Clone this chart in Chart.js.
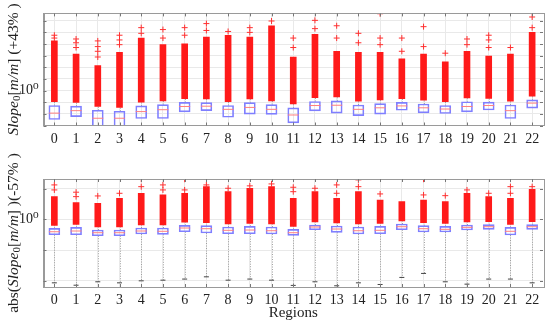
<!DOCTYPE html>
<html>
<head>
<meta charset="utf-8">
<script src="https://cdn.jsdelivr.net/npm/chart.js@4"></script>
<style>
  html, body { margin: 0; padding: 0; background: #fff; }
  #wrap { position: relative; width: 550px; height: 322px; overflow: hidden; }
  canvas { position: absolute; left: 0; }
  #topChart { top: 0; }
  #botChart { top: 145px; }
</style>
</head>
<body>
<div id="wrap">
  <canvas id="topChart" width="550" height="160"></canvas>
  <canvas id="botChart" width="550" height="177"></canvas>
</div>
<script>
const regions = ["0","1","2","3","4","5","6","7","8","9","10","11","12","13","14","15","16","17","18","19","20","21","22"];

// top panel: Slope0 [m/m] (+43%)
const topQ1 = [0.0033, 0.0058, 0.0005, 0.0005, 0.0040, 0.0040, 0.0148, 0.0189, 0.0051, 0.0096, 0.0089, 0.00166, 0.0179, 0.0116, 0.0070, 0.0096, 0.0204, 0.0123, 0.0108, 0.0148, 0.0215, 0.0040, 0.0313];
const topMed = [0.0116, 0.0189, 0.0042, 0.0042, 0.0157, 0.0228, 0.043, 0.0456, 0.0245, 0.0357, 0.0245, 0.0080, 0.052, 0.055, 0.0245, 0.0331, 0.0482, 0.0331, 0.026, 0.043, 0.052, 0.0189, 0.084];
const topQ3 = [0.052, 0.0456, 0.0204, 0.0169, 0.0482, 0.0627, 0.096, 0.091, 0.052, 0.091, 0.0627, 0.0331, 0.116, 0.132, 0.058, 0.0755, 0.096, 0.070, 0.052, 0.110, 0.102, 0.058, 0.160];
const topWhiskerHi = [0.110, 0.096, 0.043, 0.0357, 0.102, 0.132, 0.204, 0.193, 0.110, 0.193, 0.132, 0.070, 0.245, 0.28, 0.123, 0.160, 0.204, 0.148, 0.110, 0.232, 0.215, 0.123, 0.338];
const topDenseTop = [18500, 1350, 143, 1960, 32500, 8800, 10600, 39000, 57000, 39000, 370000, 769, 69000, 2370, 1960, 1960, 530, 1350, 302, 2370, 930, 1350, 100000];
const topOutliers = [
  [32500, 57000], [5000, 12800, 27000], [769, 2370, 6000, 18500], [8800, 22400, 57000],
  [83000, 255000], [32500, 175000], [57000, 255000], [146000, 570000], [120000],
  [100000, 255000], [950000], [5000, 32500], [210000, 1080000], [32500, 370000],
  [12800, 83000], [8800, 32500, 4000000], [2370, 32500], [6000, 310000], [1630],
  [8800, 27000], [5000, 22400, 57000], [5000], [255000, 2100000]
];

// bottom panel: abs(Slope0 [m/m]) (-57%)
const botQ1 = [0.315, 0.315, 0.292, 0.292, 0.332, 0.325, 0.394, 0.358, 0.340, 0.340, 0.332, 0.301, 0.458, 0.377, 0.332, 0.340, 0.458, 0.386, 0.386, 0.448, 0.472, 0.308, 0.472];
const botMed = [0.394, 0.416, 0.366, 0.366, 0.416, 0.407, 0.521, 0.494, 0.438, 0.448, 0.425, 0.366, 0.561, 0.483, 0.425, 0.438, 0.574, 0.494, 0.472, 0.548, 0.574, 0.407, 0.574];
const botQ3 = [0.509, 0.548, 0.448, 0.448, 0.521, 0.521, 0.638, 0.619, 0.561, 0.592, 0.561, 0.472, 0.652, 0.605, 0.561, 0.592, 0.703, 0.619, 0.592, 0.652, 0.667, 0.548, 0.667];
const botWhiskerHi = [0.638, 0.687, 0.561, 0.561, 0.652, 0.652, 0.80, 0.775, 0.703, 0.741, 0.703, 0.592, 0.817, 0.757, 0.703, 0.741, 0.881, 0.775, 0.741, 0.817, 0.835, 0.687, 0.835];
const botWhiskerLo = [0.0086, 0.0072, 0.0093, 0.0086, 0.0100, 0.0105, 0.0114, 0.0135, 0.0105, 0.0114, 0.0105, 0.0071, 0.0093, 0.0069, 0.0086, 0.0076, 0.0129, 0.0174, 0.0093, 0.0078, 0.0114, 0.0114, 0.0086];
const botDenseTop = [5.45, 3.47, 3.32, 4.83, 7.0, 6.19, 7.0, 11.5, 7.9, 10.2, 11.5, 4.83, 7.9, 4.83, 7.9, 4.25, 3.74, 4.25, 3.74, 7.0, 5.45, 4.83, 9.5];
const botOutliers = [
  [9.0, 13.1], [5.45, 7.6], [5.74], [7.0], [11.5, 20.1], [9.0, 13.1], [9.0, 20.1],
  [13.1], [10.2], [12.2], [14.1], [7.9, 11.0], [10.2], [7.0, 13.1], [11.5, 19.1],
  [6.67], [], [6.19, 20.1], [5.87], [9.0], [7.0], [7.0, 11.5], [11.5]
];

const topTicks = [1e-3, 1e-2, 1e-1, 1, 10, 100, 1e3, 1e4, 1e5, 1e6];
const botTicks = [1e-2, 1e-1, 1, 10];

const topTitle = [["Slope", "i"], ["0", "sub"], ["[", "n"], ["m/m", "i"], ["]", "n"], [" (+43% )", "n"]];
const botTitle = [["abs(", "n"], ["Slope", "i"], ["0", "sub"], ["[", "n"], ["m/m", "i"], ["]", "n"], [" )(-57% )", "n"]];

const FONT = "'Liberation Serif', 'DejaVu Serif', serif";

// dotted whiskers, plot frame with inner ticks and mixed-style y title
const boxExtras = {
  id: "boxExtras",
  beforeDatasetsDraw(chart, args, opts) {
    const { ctx, chartArea: a } = chart;
    const x = chart.scales.x, y = chart.scales.y;
    ctx.save();
    ctx.beginPath();
    ctx.rect(a.left, a.top, a.right - a.left, a.bottom - a.top);
    ctx.clip();
    ctx.strokeStyle = "#8a8a8a";
    ctx.lineWidth = 0.8;
    ctx.setLineDash([1, 1.5]);
    opts.q1.forEach((v, i) => {
      const px = Math.round(x.getPixelForValue(i)) + 0.5;
      ctx.beginPath();
      ctx.moveTo(px, y.getPixelForValue(opts.q3[i]));
      ctx.lineTo(px, y.getPixelForValue(opts.hi[i]));
      if (opts.lo) {
        ctx.moveTo(px, y.getPixelForValue(v));
        ctx.lineTo(px, y.getPixelForValue(opts.lo[i]));
      }
      ctx.stroke();
    });
    ctx.restore();
  },
  afterDraw(chart, args, opts) {
    const { ctx, chartArea: a } = chart;
    const x = chart.scales.x, y = chart.scales.y;
    ctx.save();
    ctx.strokeStyle = "#9a9a9a";
    ctx.lineWidth = 1;
    ctx.strokeRect(Math.round(a.left) + 0.5, Math.round(a.top) + 0.5,
      Math.round(a.right - a.left), Math.round(a.bottom - a.top));

    // small inward tick marks on all four sides
    ctx.strokeStyle = "#777";
    ctx.beginPath();
    y.ticks.forEach(t => {
      const py = Math.round(y.getPixelForValue(t.value)) + 0.5;
      ctx.moveTo(a.left, py); ctx.lineTo(a.left + 3, py);
      ctx.moveTo(a.right, py); ctx.lineTo(a.right - 3, py);
    });
    x.ticks.forEach((t, i) => {
      const px = Math.round(x.getPixelForValue(i)) + 0.5;
      ctx.moveTo(px, a.bottom); ctx.lineTo(px, a.bottom - 3);
      ctx.moveTo(px, a.top); ctx.lineTo(px, a.top + 3);
    });
    ctx.stroke();

    // y title, italic and upright runs
    const cy = (a.top + a.bottom) / 2;
    ctx.translate(opts.titleX, cy);
    ctx.rotate(-Math.PI / 2);
    ctx.fillStyle = "#222";
    ctx.textBaseline = "middle";
    const fontOf = s => s === "i" ? "italic 15.5px " + FONT : s === "sub" ? "11px " + FONT : "15.5px " + FONT;
    let total = 0;
    opts.title.forEach(([t, s]) => { ctx.font = fontOf(s); total += ctx.measureText(t).width; });
    let cx = -total / 2;
    opts.title.forEach(([t, s]) => {
      ctx.font = fontOf(s);
      ctx.fillText(t, cx, s === "sub" ? 3.5 : 0);
      cx += ctx.measureText(t).width;
    });
    ctx.restore();
  }
};

function makeChart(id, p) {
  const outlierPts = [];
  p.out.forEach((list, i) => list.forEach(v => outlierPts.push({ x: regions[i], y: v })));
  return new Chart(document.getElementById(id), {
    type: "bar",
    data: {
      labels: regions,
      datasets: [
        {
          label: "outliers",
          data: regions.map((r, i) => [p.hi[i], p.dense[i]]),
          backgroundColor: "#ff1a1a",
          barThickness: 6,
          grouped: false,
          order: 3
        },
        {
          type: "line",
          label: "outliers sparse",
          data: outlierPts,
          showLine: false,
          pointStyle: "cross",
          pointRadius: 3,
          borderColor: "#ff3030",
          borderWidth: 1,
          order: 2
        },
        {
          label: "box",
          data: regions.map((r, i) => [p.q1[i], p.q3[i]]),
          backgroundColor: "rgba(255,255,255,0)",
          borderColor: "#7f7fff",
          borderWidth: 1,
          borderSkipped: false,
          barThickness: 11,
          grouped: false,
          order: 1
        },
        {
          type: "line",
          label: "median",
          data: regions.map((r, i) => ({ x: r, y: p.med[i] })),
          showLine: false,
          pointStyle: "line",
          pointRadius: 5.5,
          borderColor: "#ff7f7f",
          borderWidth: 1,
          order: 0
        },
        {
          type: "line",
          label: "whisker cap",
          data: p.lo ? regions.map((r, i) => ({ x: r, y: p.lo[i] })) : [],
          showLine: false,
          pointStyle: "line",
          pointRadius: 2.5,
          borderColor: "#444",
          borderWidth: 1,
          order: 0
        }
      ]
    },
    options: {
      responsive: false,
      animation: false,
      devicePixelRatio: 1,
      layout: { padding: { top: p.padTop, right: 7, left: 0, bottom: 0 } },
      plugins: {
        legend: { display: false },
        tooltip: { enabled: false },
        boxExtras: { q1: p.q1, q3: p.q3, hi: p.hi, lo: p.lo, title: p.title, titleX: p.titleX }
      },
      scales: {
        x: {
          type: "category",
          offset: true,
          grid: { offset: false, color: "#e9e9e9", drawTicks: false },
          border: { color: "#9a9a9a" },
          ticks: { color: "#222", padding: 5, autoSkip: false, maxRotation: 0, font: { family: FONT, size: 14 } },
          title: {
            display: !!p.xTitle,
            text: p.xTitle || "",
            color: "#222",
            padding: { top: 0, bottom: 0 },
            font: { family: FONT, size: 15 }
          },
          afterFit: s => { s.height = p.xHeight; }
        },
        y: {
          type: "logarithmic",
          min: p.min,
          max: p.max,
          grid: { color: "#e9e9e9", drawTicks: false },
          border: { color: "#9a9a9a" },
          afterBuildTicks: s => { s.ticks = p.ticks.map(v => ({ value: v })); },
          ticks: {
            color: "#222",
            padding: 5,
            autoSkip: false,
            font: { family: FONT, size: 14 },
            callback: v => v === 1 ? "10\u2070" : ""
          },
          afterFit: s => { s.width = 43.5; }
        }
      }
    },
    plugins: [boxExtras]
  });
}

makeChart("topChart", {
  q1: topQ1, med: topMed, q3: topQ3, hi: topWhiskerHi, lo: null,
  dense: topDenseTop, out: topOutliers,
  min: 1e-3, max: 4.27e6, ticks: topTicks,
  padTop: 7, xHeight: 34.5, title: topTitle, titleX: 14
});

makeChart("botChart", {
  q1: botQ1, med: botMed, q3: botQ3, hi: botWhiskerHi, lo: botWhiskerLo,
  dense: botDenseTop, out: botOutliers,
  min: 6.3e-3, max: 20.4, ticks: botTicks,
  padTop: 34, xHeight: 35, xTitle: "Regions", title: botTitle, titleX: 14
});
</script>
</body>
</html>
